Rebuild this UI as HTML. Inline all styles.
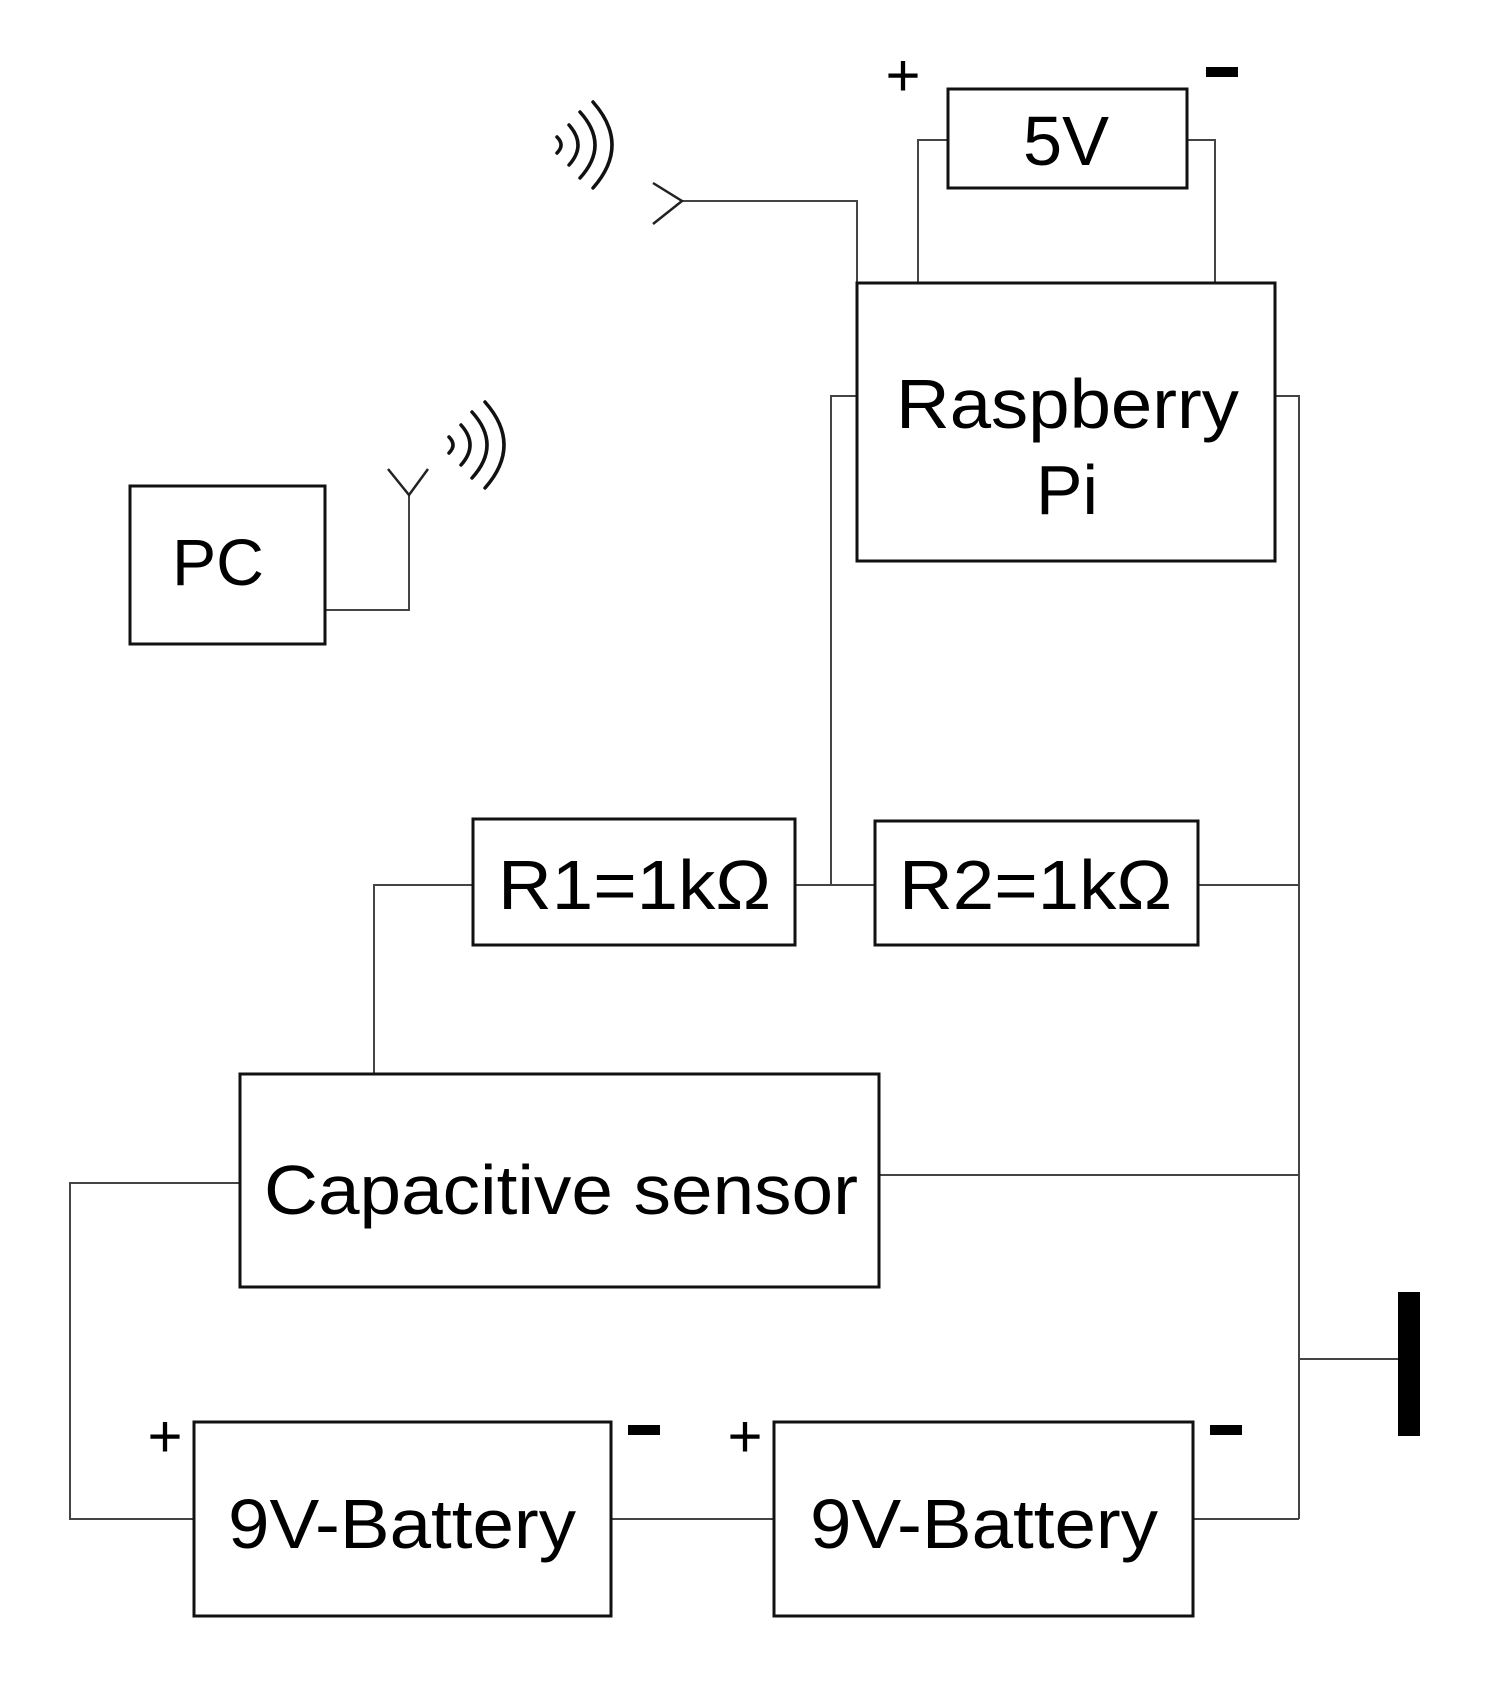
<!DOCTYPE html>
<html><head><meta charset="utf-8"><style>
html,body{margin:0;padding:0;background:#fff;}
svg{display:block;}
text{font-family:"Liberation Sans",Arial,sans-serif;fill:#000;}
</style></head><body>
<svg width="1506" height="1689" viewBox="0 0 1506 1689" xmlns="http://www.w3.org/2000/svg">
<g fill="none" stroke="#444" stroke-width="2">
<polyline points="948,140 918,140 918,283"/>
<polyline points="1187,140 1215,140 1215,283"/>
<polyline points="682,201 857,201 857,283"/>
<polyline points="857,396 831,396 831,885"/>
<polyline points="1275,396 1299,396 1299,1519"/>
<line x1="795" y1="885" x2="875" y2="885"/>
<line x1="1198" y1="885" x2="1299" y2="885"/>
<polyline points="473,885 374,885 374,1074"/>
<line x1="879" y1="1175" x2="1299" y2="1175"/>
<polyline points="240,1183 70,1183 70,1519 194,1519"/>
<line x1="611" y1="1519" x2="774" y2="1519"/>
<line x1="1193" y1="1519" x2="1299" y2="1519"/>
<line x1="1299" y1="1359" x2="1400" y2="1359"/>
<polyline points="325,610 409,610 409,495"/>
</g>
<g fill="none" stroke="#222" stroke-width="2.5">
<polyline points="653,183 682,201 653,224"/>
<polyline points="388,469 409,495 428,469"/>
</g>
<g fill="none" stroke="#111" stroke-width="3.5" stroke-linecap="round">
<path d="M557,137 Q565,145 557,153"/>
<path d="M569,125 Q587,145 569,165"/>
<path d="M580,112 Q610,145 580,178"/>
<path d="M593,102 Q631,145 593,188"/>
<path d="M449,437 Q457,445 449,453"/>
<path d="M461,425 Q479,445 461,465"/>
<path d="M472,412 Q502,445 472,478"/>
<path d="M485,402 Q523,445 485,488"/>
</g>
<rect x="1398" y="1292" width="22" height="144" fill="#000"/>
<g fill="#fff" stroke="#111" stroke-width="3">
<rect x="948" y="89" width="239" height="99"/>
<rect x="857" y="283" width="418" height="278"/>
<rect x="130" y="486" width="195" height="158"/>
<rect x="473" y="819" width="322" height="126"/>
<rect x="875" y="821" width="323" height="124"/>
<rect x="240" y="1074" width="639" height="213"/>
<rect x="194" y="1422" width="417" height="194"/>
<rect x="774" y="1422" width="419" height="194"/>
</g>
<g font-size="70" lengthAdjust="spacingAndGlyphs">
<text x="1023" y="165" textLength="86" lengthAdjust="spacingAndGlyphs">5V</text>
<text x="896" y="428" textLength="343" lengthAdjust="spacingAndGlyphs">Raspberry</text>
<text x="1036" y="514" textLength="62" lengthAdjust="spacingAndGlyphs">Pi</text>
<text x="172" y="585" textLength="92" lengthAdjust="spacingAndGlyphs" font-size="66">PC</text>
<text x="498" y="909" textLength="273" lengthAdjust="spacingAndGlyphs">R1=1kΩ</text>
<text x="899" y="909" textLength="273" lengthAdjust="spacingAndGlyphs">R2=1kΩ</text>
<text x="264" y="1214" textLength="594" lengthAdjust="spacingAndGlyphs">Capacitive sensor</text>
<text x="228" y="1548" textLength="348" lengthAdjust="spacingAndGlyphs">9V-Battery</text>
<text x="810" y="1548" textLength="348" lengthAdjust="spacingAndGlyphs">9V-Battery</text>
</g>
<g font-size="60" text-anchor="middle">
<text x="903" y="96">+</text>
<text x="165" y="1457">+</text>
<text x="745" y="1457">+</text>
</g>
<g fill="#000">
<rect x="1206" y="67" width="32" height="10"/>
<rect x="628" y="1425" width="32" height="10"/>
<rect x="1210" y="1425" width="32" height="10"/>
</g>
</svg>
</body></html>
